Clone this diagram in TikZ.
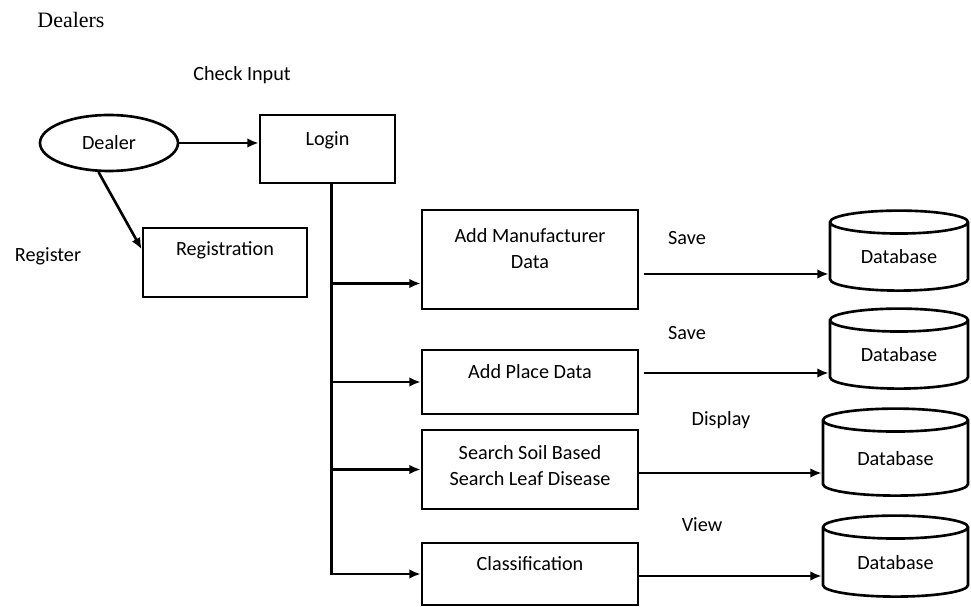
\documentclass[tikz,border=0pt]{standalone}
\usepackage{fontspec}
\setmainfont{Carlito}
\newfontfamily\titlefont{Liberation Serif}
\usetikzlibrary{shapes.geometric,arrows.meta}

\begin{document}
\begin{tikzpicture}[
  x=0.02cm,y=-0.02cm,
  >={Latex[length=6.5pt,width=5.5pt]},
  box/.style={draw,line width=1.5pt,inner sep=0pt},
  txt/.style={align=center,font=\fontsize{11.5}{15}\selectfont},
  db/.style={draw,line width=1.5pt,cylinder,shape border rotate=90,aspect=0.3,inner sep=0pt},
  flow/.style={->,line width=1.5pt},
  every node/.style={font=\fontsize{11.5}{14}\selectfont}
]
\useasboundingbox (0,0) rectangle (971,607);

% --- Nodes ---
\node[font=\titlefont\fontsize{12.5}{14}\selectfont] (title) at (71,20) {Dealers};
\node (chk) at (242,75) {Check Input};
\node (regl) at (48,256) {Register};

\node[ellipse,draw,line width=1.5pt,minimum width=2.76cm,minimum height=1.12cm,inner sep=0pt] (Dealer) at (109,143) {Dealer};
\node[box,minimum width=2.7cm,minimum height=1.36cm,label={[txt,yshift=0.18cm]center:Login}] (Login) at (327.5,149) {};
\node[box,minimum width=3.28cm,minimum height=1.38cm,label={[txt,yshift=0.24cm]center:Registration}] (Reg) at (225,262.5) {};

% middle column
\node[box,minimum width=4.32cm,minimum height=1.98cm,label={[txt,yshift=0.22cm]center:Add Manufacturer\\Data}] (Manuf) at (530,259.5) {};
\node[box,minimum width=4.32cm,minimum height=1.28cm,label={[txt,yshift=0.2cm]center:Add Place Data}] (Place) at (530,382) {};
\node[box,minimum width=4.32cm,minimum height=1.58cm,label={[txt,yshift=0.08cm]center:Search Soil Based\\Search Leaf Disease}] (Srch) at (530,469.5) {};
\node[box,minimum width=4.32cm,minimum height=1.24cm,label={[txt,yshift=0.2cm]center:Classification}] (Cls) at (530,574) {};

% databases
\node[db,minimum width=2.76cm,minimum height=1.6cm] (DB1) at (899,257) {Database};
\node[db,minimum width=2.76cm,minimum height=1.6cm] (DB2) at (899,355) {Database};
\node[db,minimum width=2.9cm,minimum height=1.74cm] (DB3) at (895.5,458.5) {Database};
\node[db,minimum width=2.9cm,minimum height=1.62cm] (DB4) at (895.5,562.5) {Database};

% edge labels
\node (sv1) at (687,238) {Save};
\node (sv2) at (687,333) {Save};
\node (dsp) at (721,420) {Display};
\node (vw)  at (702,525) {View};

% --- Arrows ---
\draw[flow] (Dealer.east) -- (Dealer.east -| Login.west);
\draw[flow] (Dealer.250) -- (Reg.171);

% Login trunk
\coordinate (trunk) at ([xshift=0.08cm]Login.south);
\coordinate (m1) at ([yshift=-0.48cm]Manuf.west);
\draw[flow] (trunk) |- (Cls.west);
\draw[flow] (trunk |- m1) -- (m1);
\draw[flow] (trunk |- Place.west) -- (Place.west);
\draw[flow] (trunk |- Srch.west) -- (Srch.west);

% to databases
\coordinate (s1) at ([xshift=0.1cm,yshift=-0.29cm]Manuf.east);
\coordinate (s2) at ([xshift=0.1cm,yshift=0.18cm]Place.east);
\coordinate (s3) at ([yshift=-0.07cm]Srch.east);
\coordinate (s4) at ([yshift=-0.04cm]Cls.east);
\draw[flow] (s1) -- (s1 -| DB1.west);
\draw[flow] (s2) -- (s2 -| DB2.west);
\draw[flow] (s3) -- (s3 -| DB3.west);
\draw[flow] (s4) -- (s4 -| DB4.west);

\end{tikzpicture}
\end{document}
